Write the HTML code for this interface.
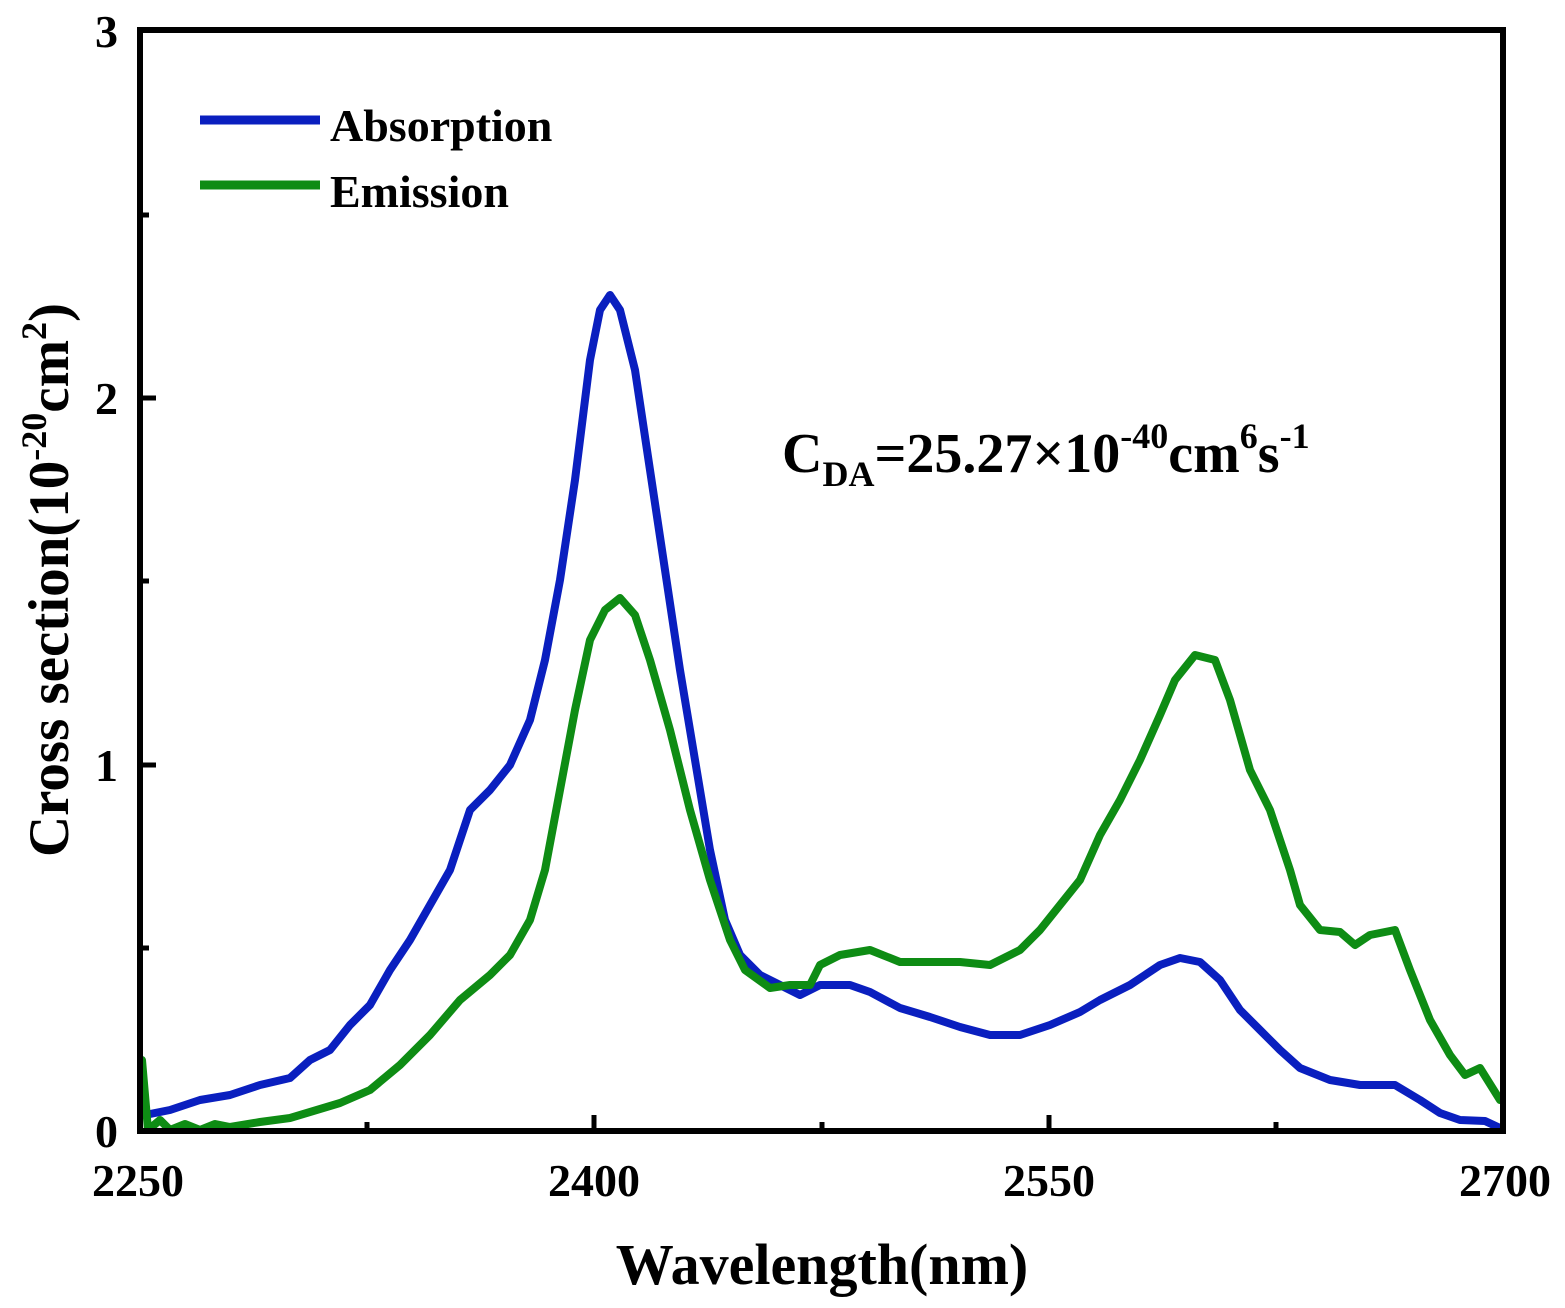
<!DOCTYPE html>
<html><head><style>
html,body{margin:0;padding:0;background:#fff;}
svg{display:block;}
text{font-family:"Liberation Serif",serif;font-weight:bold;fill:#000;}
</style></head><body>
<svg width="1565" height="1308" viewBox="0 0 1565 1308" xmlns="http://www.w3.org/2000/svg">
<rect x="0" y="0" width="1565" height="1308" fill="#fff"/>
<polyline fill="none" stroke="#0a1fbf" stroke-width="8" stroke-linejoin="round" stroke-linecap="round" points="145,1115 170,1110 200,1100 230,1095 260,1085 290,1078 310,1060 330,1050 350,1025 370,1005 390,970 410,940 430,905 450,870 470,810 490,790 510,765 530,720 545,660 560,580 575,480 590,360 600,310 610,295 620,310 635,370 650,470 665,570 680,670 695,760 710,850 725,920 740,955 760,975 780,985 800,995 820,985 850,985 870,992 900,1008 930,1017 960,1027 990,1035 1020,1035 1050,1025 1080,1012 1100,1000 1130,985 1160,965 1180,958 1200,962 1220,980 1240,1010 1260,1030 1280,1050 1300,1068 1330,1080 1360,1085 1395,1085 1420,1100 1440,1113 1460,1120 1485,1121 1500,1128"/>
<polyline fill="none" stroke="#0e8c14" stroke-width="8" stroke-linejoin="round" stroke-linecap="round" points="142,1060 148,1130 160,1120 170,1130 185,1124 200,1130 215,1124 230,1127 260,1122 290,1118 310,1112 340,1103 370,1090 400,1065 430,1035 460,1000 490,975 510,955 530,920 545,870 560,790 575,710 590,640 605,610 620,598 635,615 650,660 670,730 690,810 710,880 730,940 745,970 770,988 790,985 810,985 820,965 840,955 870,950 900,962 930,962 960,962 990,965 1020,950 1040,930 1060,905 1080,880 1100,835 1120,800 1140,760 1160,715 1175,680 1195,655 1215,660 1230,700 1250,770 1270,810 1290,870 1300,905 1320,930 1340,932 1355,945 1370,935 1395,930 1410,970 1430,1020 1450,1055 1465,1075 1480,1068 1500,1100"/>
<rect x="140" y="30" width="1363" height="1101" fill="none" stroke="#000" stroke-width="6"/>
<g stroke="#000" stroke-width="5">
<line x1="594" y1="1131" x2="594" y2="1115"/><line x1="1049" y1="1131" x2="1049" y2="1115"/>
<line x1="367" y1="1131" x2="367" y2="1122"/><line x1="822" y1="1131" x2="822" y2="1122"/><line x1="1276" y1="1131" x2="1276" y2="1122"/>
<line x1="140" y1="765" x2="156" y2="765"/><line x1="140" y1="398" x2="156" y2="398"/>
<line x1="140" y1="948" x2="149" y2="948"/><line x1="140" y1="581" x2="149" y2="581"/><line x1="140" y1="215" x2="149" y2="215"/>
</g>
<g font-size="46" text-anchor="middle">
<text x="138" y="1196">2250</text><text x="594" y="1196">2400</text><text x="1049" y="1196">2550</text><text x="1505" y="1196">2700</text>
</g>
<g font-size="46" text-anchor="end">
<text x="118" y="1147">0</text><text x="118" y="781">1</text><text x="118" y="414">2</text><text x="118" y="47">3</text>
</g>
<text x="822" y="1284" font-size="58" text-anchor="middle">Wavelength(nm)</text>
<text transform="translate(68,580) rotate(-90)" font-size="57" text-anchor="middle">Cross section(10<tspan font-size="36" dy="-22">-20</tspan><tspan dy="22">cm</tspan><tspan font-size="36" dy="-22">2</tspan><tspan dy="22">)</tspan></text>
<line x1="200" y1="120" x2="320" y2="120" stroke="#0a1fbf" stroke-width="9"/>
<line x1="200" y1="185" x2="320" y2="185" stroke="#0e8c14" stroke-width="9"/>
<text x="330" y="141" font-size="46">Absorption</text>
<text x="330" y="207" font-size="46">Emission</text>
<text x="782" y="472" font-size="56">C<tspan font-size="36" dy="14">DA</tspan><tspan dy="-14">=25.27×10</tspan><tspan font-size="36" dy="-24">-40</tspan><tspan dy="24">cm</tspan><tspan font-size="36" dy="-24">6</tspan><tspan dy="24">s</tspan><tspan font-size="36" dy="-24">-1</tspan></text>
</svg>
</body></html>
